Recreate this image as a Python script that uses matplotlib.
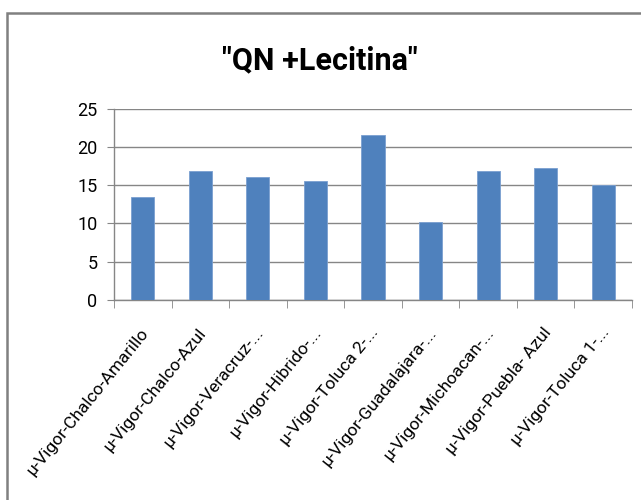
import matplotlib.pyplot as plt
from matplotlib.patches import Rectangle
from matplotlib.transforms import offset_copy
import numpy as np

categories = ['μ-Vigor-Chalco-Amarillo', 'μ-Vigor-Chalco-Azul', 'μ-Vigor-Veracruz-...',
              'μ-Vigor-Hibrido-...', 'μ-Vigor-Toluca 2-...', 'μ-Vigor-Guadalajara-...',
              'μ-Vigor-Michoacan-...', 'μ-Vigor-Puebla- Azul', 'μ-Vigor-Toluca 1-...']
values = [13.5, 16.8, 16.1, 15.5, 21.5, 10.2, 16.8, 17.2, 15.0]
yticks = [0, 5, 10, 15, 20, 25]

plt.rcParams['font.family'] = ['Liberation Sans Narrow', 'Roboto', 'DejaVu Sans']
grey = '#868686'

fig = plt.figure(figsize=(6.41, 5.0), dpi=100)
ax = fig.add_axes([114 / 641, 0.4, 518 / 641, 0.383])

x = np.arange(len(values))
ax.bar(x, values, width=0.4, color='#4F81BD', edgecolor='#7A9FD0', linewidth=0.6, zorder=3)

ax.set_xlim(-0.5, len(values) - 0.5)
ax.set_ylim(0, 25)
ax.set_yticks(yticks)
ax.set_yticklabels([str(t) for t in yticks], fontsize=13)
ax.grid(axis='y', color=grey, linewidth=1, zorder=0)

for s in ['top', 'right']:
    ax.spines[s].set_visible(False)
for s in ['left', 'bottom']:
    ax.spines[s].set_color(grey)
    ax.spines[s].set_linewidth(1)

ax.tick_params(axis='y', length=5, color=grey, pad=7)
ax.set_xticks(x)
ax.set_xticklabels([])
ax.tick_params(axis='x', which='major', length=0)
ax.set_xticks(np.arange(-0.5, len(values), 1), minor=True)
ax.tick_params(axis='x', which='minor', length=6, color=grey)

# rotated category labels, right end hanging just under each bar centre
lbl_tr = offset_copy(ax.get_xaxis_transform(), fig=fig, x=-3, y=-25, units='dots')
for xi, name in zip(x, categories):
    ax.text(xi, 0, name, transform=lbl_tr, rotation=51, rotation_mode='anchor',
            ha='right', va='top', fontsize=12.6, color='black')

fig.text(320 / 641, 1 - 60 / 500, '"QN +Lecitina"', ha='center', va='center',
         fontsize=22, fontweight='bold')

fig.patches.append(Rectangle((6.5 / 641, -0.1), 1.2, 1 - 13 / 500 + 0.1,
                             transform=fig.transFigure, fill=False,
                             edgecolor='#808080', linewidth=1.8))

fig.savefig('out.png', dpi=100)
